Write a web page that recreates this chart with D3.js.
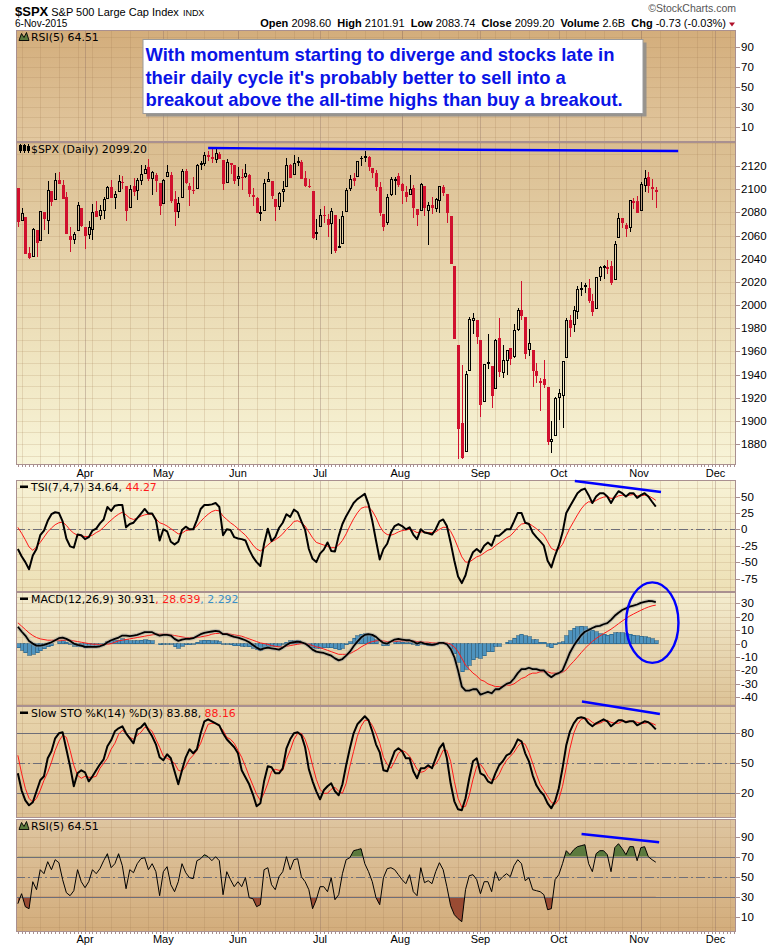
<!DOCTYPE html>
<html><head><meta charset="utf-8">
<script src="https://cdn.jsdelivr.net/npm/d3@7/dist/d3.min.js"></script>
<style>html,body{margin:0;padding:0;background:#fff}svg{display:block}</style>
</head><body>
<svg id="chart" width="780" height="948"></svg>
<script>
// ---------------- DATA ----------------
const dates = ["03-06","03-09","03-10","03-11","03-12","03-13","03-16","03-17","03-18","03-19","03-20","03-23","03-24","03-25","03-26","03-27","03-30","03-31",
"04-01","04-02","04-06","04-07","04-08","04-09","04-10","04-13","04-14","04-15","04-16","04-17","04-20","04-21","04-22","04-23","04-24","04-27","04-28","04-29","04-30",
"05-01","05-04","05-05","05-06","05-07","05-08","05-11","05-12","05-13","05-14","05-15","05-18","05-19","05-20","05-21","05-22","05-26","05-27","05-28","05-29",
"06-01","06-02","06-03","06-04","06-05","06-08","06-09","06-10","06-11","06-12","06-15","06-16","06-17","06-18","06-19","06-22","06-23","06-24","06-25","06-26","06-29","06-30",
"07-01","07-02","07-06","07-07","07-08","07-09","07-10","07-13","07-14","07-15","07-16","07-17","07-20","07-21","07-22","07-23","07-24","07-27","07-28","07-29","07-30","07-31",
"08-03","08-04","08-05","08-06","08-07","08-10","08-11","08-12","08-13","08-14","08-17","08-18","08-19","08-20","08-21","08-24","08-25","08-26","08-27","08-28","08-31",
"09-01","09-02","09-03","09-04","09-08","09-09","09-10","09-11","09-14","09-15","09-16","09-17","09-18","09-21","09-22","09-23","09-24","09-25","09-28","09-29","09-30",
"10-01","10-02","10-05","10-06","10-07","10-08","10-09","10-12","10-13","10-14","10-15","10-16","10-19","10-20","10-21","10-22","10-23","10-26","10-27","10-28","10-29","10-30",
"11-02","11-03","11-04","11-05","11-06"];
const futureDates = ["11-09","11-10","11-11","11-12","11-13","11-16","11-17","11-18","11-19","11-20","11-23","11-24","11-25","11-27","11-30","12-01","12-02","12-03","12-04","12-07","12-08"];
const monthLabels = ["Apr","May","Jun","Jul","Aug","Sep","Oct","Nov","Dec"];

const open = [2100.91,2072.25,2076.14,2044.69,2041.10,2064.56,2055.35,2080.59,2072.84,2098.69,2090.32,2107.99,2103.94,2093.10,2059.94,2055.78,2064.11,2084.05,
2067.63,2060.03,2064.87,2080.79,2076.94,2081.29,2091.51,2102.03,2092.28,2097.82,2105.96,2102.58,2084.11,2102.82,2098.27,2107.21,2112.80,2119.29,2108.35,2112.49,2105.52,
2087.38,2110.23,2112.63,2091.26,2079.96,2092.13,2115.56,2102.87,2099.62,2100.43,2122.07,2121.30,2129.45,2127.79,2125.55,2130.36,2125.34,2105.13,2122.27,2120.66,
2108.64,2110.41,2110.64,2112.35,2095.09,2092.34,2079.07,2081.12,2106.24,2107.43,2091.34,2084.26,2097.40,2101.58,2121.06,2112.50,2123.16,2123.65,2109.96,2102.62,2098.63,2061.19,
2067.00,2078.03,2073.95,2069.52,2077.66,2049.73,2052.74,2080.03,2099.72,2109.25,2110.55,2126.80,2126.85,2127.55,2118.21,2114.16,2102.24,2078.19,2070.75,2094.70,2106.78,2111.60,
2104.49,2097.68,2095.27,2100.75,2082.61,2080.98,2102.66,2081.10,2086.19,2083.15,2089.70,2101.99,2095.69,2076.61,2034.08,1965.15,1898.08,1872.75,1942.77,1986.06,1986.73,
1970.09,1916.52,1950.79,1947.76,1927.30,1971.45,1941.59,1951.45,1963.06,1955.10,1978.02,1995.33,1989.66,1960.84,1961.39,1943.24,1934.73,1935.93,1929.18,1881.90,1887.14,
1919.65,1921.77,1954.33,1986.63,1982.34,1994.01,2013.73,2015.65,2015.00,2003.66,1996.47,2024.37,2031.73,2033.13,2033.47,2021.88,2058.19,2075.08,2068.75,2066.48,2088.35,2090.00,
2080.76,2102.63,2110.60,2101.68,2098.60];
const high = [2100.91,2083.49,2076.14,2050.08,2066.41,2064.56,2081.41,2080.59,2106.85,2098.69,2113.92,2114.86,2107.63,2097.43,2067.15,2062.83,2088.97,2084.05,
2067.63,2072.17,2086.99,2089.81,2086.69,2093.31,2102.61,2107.65,2098.62,2111.91,2111.30,2102.58,2103.94,2109.64,2109.98,2120.49,2120.92,2125.92,2116.04,2113.65,2105.52,
2108.41,2120.95,2115.24,2098.42,2092.90,2117.66,2117.69,2105.06,2110.19,2121.45,2123.89,2131.78,2133.02,2134.72,2134.28,2132.15,2125.34,2126.22,2122.27,2120.66,
2119.15,2117.59,2121.92,2112.89,2100.99,2093.01,2085.62,2108.50,2115.02,2107.43,2091.34,2097.40,2106.79,2126.65,2121.64,2129.87,2128.03,2125.10,2116.04,2108.92,2098.63,2074.28,
2082.78,2085.06,2078.61,2083.74,2077.66,2074.28,2081.31,2100.67,2111.98,2114.14,2124.42,2128.91,2132.82,2128.48,2118.51,2116.87,2106.01,2078.19,2095.60,2110.60,2110.48,2114.24,
2105.70,2102.51,2112.66,2103.32,2082.61,2105.35,2102.66,2089.06,2092.93,2092.45,2102.87,2103.47,2096.17,2076.61,2034.08,1965.15,1948.04,1943.09,1989.60,1993.48,1986.73,
1970.09,1948.91,1975.01,1947.76,1970.42,1988.63,1965.29,1961.05,1963.06,1983.19,1997.26,2020.86,1989.66,1979.64,1961.39,1949.52,1937.17,1952.89,1929.18,1899.48,1920.53,
1927.21,1951.36,1989.17,1991.62,1999.31,2016.50,2020.13,2018.66,2022.34,2009.56,2024.15,2033.54,2034.45,2039.12,2037.97,2055.20,2079.74,2075.14,2070.37,2090.35,2092.52,2094.32,
2106.20,2116.48,2114.59,2108.78,2101.91];
const low = [2067.27,2072.21,2044.16,2039.69,2041.10,2041.17,2055.35,2065.08,2061.23,2085.56,2090.32,2104.42,2091.50,2061.05,2045.50,2052.96,2064.11,2067.04,
2048.38,2057.32,2056.52,2076.10,2073.30,2074.29,2091.51,2092.33,2083.24,2097.82,2100.02,2072.37,2084.11,2094.38,2091.05,2103.19,2112.80,2107.04,2094.89,2097.41,2077.59,
2087.38,2110.23,2088.46,2067.93,2074.99,2092.13,2104.58,2085.57,2096.04,2100.43,2116.81,2120.01,2124.50,2122.59,2122.95,2126.06,2099.18,2105.13,2112.86,2104.89,
2102.54,2099.14,2109.61,2093.23,2085.67,2079.11,2072.14,2081.12,2106.24,2091.33,2072.49,2082.10,2088.86,2101.58,2109.45,2112.50,2119.89,2108.58,2101.78,2101.21,2056.64,2056.32,
2067.00,2071.02,2058.40,2044.02,2044.66,2049.73,2052.74,2080.03,2098.18,2102.49,2110.55,2119.88,2123.66,2115.40,2110.00,2098.63,2077.09,2063.52,2069.09,2094.08,2094.97,2102.07,
2087.31,2088.60,2095.27,2075.53,2067.91,2080.98,2076.49,2052.09,2078.26,2080.61,2079.30,2094.14,2070.53,2035.73,1970.89,1867.01,1867.08,1872.75,1942.77,1975.19,1965.98,
1903.07,1916.52,1944.72,1911.21,1927.30,1937.88,1937.19,1939.19,1948.27,1954.30,1977.93,1986.73,1953.45,1955.80,1929.22,1932.57,1908.92,1928.32,1879.21,1871.91,1887.14,
1900.70,1893.70,1954.33,1971.99,1976.44,1987.53,2007.61,2010.55,2001.78,1990.73,1996.47,2020.46,2022.31,2026.61,2017.22,2021.88,2058.19,2066.53,2058.84,2063.11,2082.63,2079.34,
2080.76,2097.51,2096.98,2090.41,2083.74];
const close = [2071.26,2079.43,2044.16,2040.24,2065.95,2053.40,2081.19,2074.28,2099.50,2089.27,2108.10,2104.42,2091.50,2061.05,2056.15,2061.02,2086.24,2067.89,
2059.69,2066.96,2080.62,2076.33,2081.90,2091.18,2102.06,2092.43,2095.84,2106.63,2104.99,2081.18,2100.40,2097.29,2107.96,2112.93,2117.69,2108.92,2114.76,2106.85,2085.51,
2108.29,2114.49,2089.46,2080.15,2088.00,2116.10,2105.33,2099.12,2098.48,2121.10,2122.73,2129.20,2127.83,2125.85,2130.82,2126.06,2104.20,2123.48,2120.79,2107.39,
2111.73,2109.60,2114.07,2095.84,2092.83,2079.28,2080.15,2105.20,2108.86,2094.11,2084.43,2096.29,2100.44,2121.24,2109.99,2122.85,2124.20,2108.58,2102.31,2101.49,2057.64,2063.11,
2077.42,2076.78,2068.76,2081.34,2046.68,2051.31,2076.62,2099.60,2108.95,2107.40,2124.29,2126.64,2128.28,2119.21,2114.15,2102.15,2079.65,2067.64,2093.25,2108.57,2108.63,2103.84,
2098.04,2093.32,2099.84,2083.56,2077.57,2104.18,2084.07,2086.05,2083.39,2091.54,2102.44,2096.92,2079.61,2035.73,1970.89,1893.21,1867.61,1940.51,1987.66,1988.87,1972.18,
1913.85,1948.86,1951.13,1921.22,1969.41,1942.04,1952.29,1961.05,1953.03,1978.09,1995.31,1990.20,1958.03,1966.97,1942.74,1938.76,1932.24,1931.34,1881.77,1884.09,1920.03,
1923.82,1951.36,1987.05,1979.92,1995.83,2013.43,2014.89,2017.46,2003.69,1994.24,2023.86,2033.11,2033.66,2030.77,2018.94,2052.51,2075.15,2071.18,2065.89,2090.35,2089.41,2079.36,
2104.05,2109.79,2102.31,2099.93,2099.20];

const tsiLine = [-30,-41,-50,-61,-40,-30,-9,-2,13,23, 26,25,12,-14,-26,-28,-8,-9,-15,-12, -2,1,9,15,34,28,36,37,37,3,
8,10,17,24,31,24,24,14,-17,0, -3,-19,-23,-19,-1,4,0,0,14,31, 37,37,38,40,34,-9,0,-1,-12,-14,
-15,-17,-31,-42,-50,-56,-22,1,-18,-12, 2,10,23,19,30,26,12,-1,-30,-45, -50,-37,-31,-20,-33,-34,-10,8,20,30,
40,46,50,54,38,13,-17,-46,-30,-22, -5,5,8,5,0,3,-8,-15,0,-5, -6,-8,0,12,15,5,-20,-48,-72,-82,
-70,-48,-35,-30,-35,-25,-20,-25,-10,-10, -5,0,0,12,25,25,10,8,-5,-12, -18,-25,-48,-58,-40,-25,-5,25,35,45,
55,60,62,52,40,50,55,55,50,40, 50,58,55,50,55,55,48,52,55,50, 42,34.64];
const tsiSignal = [3,-6,-16,-27,-32,-27,-20,-12,-4,2, 7,10,11,6,-1,-6,-9,-10,-11,-11, -9,-5,-2,3,9,14,19,23,26,22,
17,15,17,20,22,23,23,16,10,8, 5,1,-3,-7,-6,-2,-1,0,5,12, 18,23,27,29,28,20,15,10,6,1,
-4,-9,-16,-24,-30,-33,-29,-24,-19,-16, -12,-7,0,5,12,13,10,5,-4,-13, -20,-22,-24,-26,-28,-28,-24,-17,-7,5,
16,25,32,34,34,28,18,5,-4,-8, -9,-7,-4,-2,-1,0,-2,-5,-4,-4, -5,-5,-4,0,3,3,-3,-14,-28,-42,
-50,-50,-46,-42,-40,-36,-32,-30,-25,-21, -17,-13,-10,-4,3,8,9,9,5,1, -4,-9,-19,-29,-32,-30,-23,-10,2,12,
22,31,38,42,41,44,47,49,50,47, 48,51,52,51,52,53,51,51,52,51, 48,44.27];

const macdLine = [12.5,9,6,2,0,-1.5,-1.5,-1,0,1, 2.5,4,4.5,3.5,2,0,-1,-1.5,-2.5,-2.5, -2.5,-2.5,-2,-1,1,2.5,3.5,4.5,6,6,
5.5,6,6.5,7.5,8.5,8.5,8.5,7,6,6.5, 6.5,6,3.5,2,3,3.5,3.5,4,5.5,7, 8,8.5,9,9.5,9,7,7,6,5,4.5,
3.5,2.5,1,-1,-3,-4.5,-3.5,-3,-3.5,-4, -4.5,-3,-1,0.5,1,1.5,1,0,-2,-4.5, -6,-6.5,-7,-8,-9,-11,-12.5,-11.5,-9,-6,
-2,1.5,4.5,6.5,7,6.5,5,2.5,0.5,0, 1.5,3,3.5,3,2.5,2.5,1.5,0,1,0, -0.5,-1,-0.5,0.5,0.5,-0.5,-4,-10,-20,-32,
-35,-35,-34,-34,-38,-37,-36,-37,-34,-34, -32,-30,-29,-26,-22,-19,-19,-18,-19,-19, -20,-20,-23,-25,-23,-22,-20,-13.5,-6.6,-1.7,
2.4,6.2,8.8,10.1,11.6,12.8,13.2,14.4,15.2,17.7, 20.7,23,25,26.2,27.5,28.2,29.1,30.3,31.1,31.7, 31.6,30.931];
const macdSignal = [15.5,13,10.5,8,6,4.5,3.5,3,2.5,2.5, 2.5,2.5,2.5,2.5,2.5,2,1.5,1,0.5,0, -0.5,-0.5,-0.7,-0.7,-0.5,0,1,2,2.5,3,
3.5,4,4.5,5,5.5,6,6.5,7,7,7, 7,6.5,6,5.5,5,4.5,4.5,4.5,4.5,5, 5.5,6,7,7.5,7.5,7.5,7.5,7,6.5,6,
5.5,4.5,3.5,2.5,1.5,0.5,0,-0.5,-1.5,-2, -2.5,-2.5,-2,-1.5,-1,-0.5,0,0,-0.5,-1.5, -2.5,-3,-4,-5,-6,-7,-8,-8,-8,-7.5,
-6,-4.5,-2.5,-1,0.5,1.5,2,2.5,2,1.5, 1.5,1.5,2,2,2,2,2,1.5,1.5,1, 1,0.5,0.5,0.5,0.5,0.5,-0.5,-2.5,-6,-11,
-16,-19,-22,-24,-27,-28,-30,-31,-32,-32, -32,-31,-31,-30,-28,-26,-25,-23,-22,-22, -21,-21,-21,-22,-22,-22,-21.5,-19.5,-16.1,-13.2,
-10.1,-6.8,-3.7,-0.9,1.6,3.8,5.7,7.4,9,10.7, 12.7,14.8,16.8,18.7,20.5,22,23.4,24.8,26.1,27.2, 28.1,28.639];
const macdHist = [-3,-5,-7,-8.5,-8,-7,-5.5,-4,-2.5,-1.5, 0,1.5,2,1,-0.5,-2,-2.5,-2.5,-3,-2.5, -2,-2,-1.5,-0.5,1.5,2.5,2.5,2.5,3.5,3,
2,2,2,2.5,3,2.5,2,0,-1,-0.5, -0.5,-0.5,-2.5,-3.5,-2,-1,-1,-0.5,1,2, 2.5,2.5,2,2,1.5,-0.5,-0.5,-1,-1.5,-1.5,
-2,-2,-2.5,-3.5,-4.5,-5,-3.5,-2.5,-2,-2, -2,-0.5,1,2,2,2,1,0,-1.5,-3, -3.5,-3.5,-3,-3,-3,-4,-4.5,-3.5,-1,1.5,
4,6,7,7.5,6.5,5,3,0,-1.5,-1.5, 0,1.5,1.5,1,0.5,0.5,-0.5,-1.5,-0.5,-1, -1.5,-1.5,-1,0,0,-1,-3.5,-7.5,-14,-21,
-19,-16,-12,-10,-11,-9,-6,-6,-2,-2, 0,1,2,4,6,7,6,5,3,3, 1,1,-2,-3,-1,0.5,1.5,6,9.5,11.5,
12.5,13,12.5,11,10,9,7.5,7,6.2,7, 8,8.2,8.2,7.5,7,6.2,5.7,5.5,5,4.5, 3.5,2.292];

const stoK = [40,23,13,8,11,22,33,37,55,62, 75,80,81,64,47,27,40,43,41,32, 37,43,49,54,67,73,82,85,87,80,
75,70,84,86,90,83,77,69,56,53, 59,55,42,29,43,56,64,60,64,80, 92,94,92,90,88,80,74,70,66,60,
43,36,29,19,7,10,32,47,46,40, 40,45,65,74,80,81,78,66,44,32, 22,14,23,27,30,22,18,29,48,65,
80,89,93,97,93,82,69,61,43,42, 52,62,65,62,55,55,42,35,45,45, 48,45,55,65,70,55,30,12,4,3,
15,35,52,55,40,38,32,30,40,48, 52,58,60,66,74,72,60,52,38,28, 22,18,10,5,12,25,45,68,82,90,
95,96,95,90,87,90,92,94,92,87, 90,93,93,91,92,92,88,90,92,91, 88,83.88];
const stoD = [58,40,25,15,11,15,23,33,41,51, 63,72,78,76,63,48,38,35,37,36, 36,37,45,50,55,64,70,79,83,80,
76,74,78,81,86,85,82,74,66,57, 55,53,50,43,42,47,54,58,63,70, 80,89,90,90,87,83,76,74,70,63,
56,47,37,28,19,13,20,30,42,44, 43,43,54,63,74,80,80,74,63,48, 34,24,20,20,24,26,22,20,30,47,
62,77,87,93,93,88,80,70,56,49, 45,52,60,63,61,57,51,44,41,42, 46,46,49,55,63,63,52,32,15,6,
7,18,34,47,49,44,37,33,34,39, 47,53,57,61,67,71,69,61,50,39, 29,23,17,11,9,14,27,46,65,80,
89,94,95,94,91,89,90,92,93,91, 90,90,92,92,92,92,91,90,90,91, 90,88.16];

const rsi5 = [23,33,20,18,45,37,57,53,65,57, 67,64,47,34,31,36,57,45,39,45, 57,53,58,66,73,59,63,73,61,38,
57,54,63,68,69,57,63,55,31,55, 60,42,35,45,63,54,49,48,66,68, 72,70,66,70,66,32,55,47,40,45,
40,49,29,28,20,22,57,59,42,37, 50,55,70,57,67,68,50,45,37,18, 27,40,40,35,49,27,32,53,67,69,
76,77,78,63,55,45,29,22,49,58, 59,57,52,47,43,52,35,31,59,44, 46,43,55,64,57,40,21,12,8,5,
37,51,52,47,33,45,45,35,55,46, 50,53,50,61,67,63,46,49,37,36, 35,32,17,18,47,52,63,76,72,77,
80,81,82,63,55,73,76,76,72,55, 79,83,78,72,80,80,66,79,80,70, 67,64.51];

const priceTicks = [1880,1900,1920,1940,1960,1980,2000,2020,2040,2060,2080,2100,2120];
const rsiTicks = [10,30,50,70,90];
const tsiTicks = [-75,-50,-25,0,25,50];
const macdTicks = [-40,-30,-20,-10,0,10,20,30];
const stoTicks = [20,50,80];

// annotations drawn by the chart author (data coordinates: day index, value)
const trendLines = [
  {panel:"price", i0:51, v0:2135.5, i1:177, v1:2132.9},
  {panel:"tsi", i0:149.3, v0:73.6, i1:172.4, v1:56.9},
  {panel:"sto", i0:151.2, v0:111.8, i1:172.1, v1:99.3},
  {panel:"rsi", i0:151.1, v0:92.7, i1:171.9, v1:84.4}
];
const macdEllipse = {ci:170.06, cv:15.6, ri:7.02, rv:30.0};
const noteLines = ["With momentum starting to diverge and stocks late in",
  "their daily cycle it's probably better to sell into a",
  "breakout above the all-time highs than buy a breakout."];

// ---------------- CHART ----------------
const svg = d3.select("#chart");
const defs = svg.append("defs");
const allDates = dates.concat(futureDates);
const X0 = 16, X1 = 736;
const x = d3.scaleLinear().domain([-0.5, allDates.length - 0.5]).range([X0, X1]);
const SANS = "'Liberation Sans', Arial, Helvetica, sans-serif";
const LBL = "'DejaVu Sans', Verdana, sans-serif";
const RED = "#d0102e", BORDER = "#a99090";

const panels = {
  rsiTop: {top:30, bottom:142, y:d3.scaleLinear().domain([0,100]).range([136.7,36.7]), ticks:rsiTicks, grid:d3.range(0,101,10), stops:[["0%","#d3ad7b"],["100%","#e2c8a0"]]},
  price: {top:142, bottom:465, y:d3.scaleLinear().domain([1880,2120]).range([444,166]), ticks:priceTicks, grid:d3.range(1860,2150,10), stops:[["0%","#dabd90"],["35%","#e6d2aa"],["70%","#f0e6c2"],["100%","#f8f4d8"]]},
  tsi: {top:480, bottom:592, y:d3.scaleLinear().domain([-75,50]).range([578.5,496.5]), ticks:tsiTicks, grid:d3.range(-100,101,12.5), stops:[["0%","#f7f2d5"],["100%","#ede0b6"]]},
  macd: {top:592, bottom:706, y:d3.scaleLinear().domain([-40,30]).range([697.3,603.3]), ticks:macdTicks, grid:d3.range(-50,45,5), stops:[["0%","#f4edd0"],["100%","#dcc296"]]},
  sto: {top:706, bottom:818, y:d3.scaleLinear().domain([0,100]).range([813.3,713.3]), ticks:stoTicks, grid:d3.range(0,101,10), stops:[["0%","#e8d5ad"],["100%","#dcc094"]]},
  rsi: {top:819, bottom:932, y:d3.scaleLinear().domain([0,100]).range([926.7,826.7]), ticks:rsiTicks, grid:d3.range(0,101,10), stops:[["0%","#dec5a0"],["100%","#d3ad7c"]]}
};

// week / month boundaries from the calendar
const parsed = allDates.map(s => new Date(2015, +s.slice(0,2)-1, +s.slice(3)));
const monthIdx = [], weekIdx = [];
parsed.forEach((d,i) => {
  if (i === 0) return;
  const p = parsed[i-1];
  if (d.getMonth() !== p.getMonth()) monthIdx.push(i);
  if (d.getDay() <= p.getDay() || (d - p) > 4*86400000) weekIdx.push(i);
});

Object.entries(panels).forEach(([key,p]) => {
  const gid = "g_" + key;
  const g = defs.append("linearGradient").attr("id", gid).attr("x1",0).attr("y1",0).attr("x2",0).attr("y2",1);
  p.stops.forEach(s => g.append("stop").attr("offset", s[0]).attr("stop-color", s[1]));
  defs.append("clipPath").attr("id","c_"+key).append("rect")
    .attr("x",X0).attr("y",p.top).attr("width",X1-X0).attr("height",p.bottom-p.top);
  p.g = svg.append("g");
  p.g.append("rect").attr("x",X0).attr("y",p.top).attr("width",X1-X0).attr("height",p.bottom-p.top).attr("fill","url(#"+gid+")");
  const grid = p.g.append("g").attr("clip-path","url(#c_"+key+")").attr("shape-rendering","crispEdges");
  grid.selectAll(".h").data(p.grid).join("line")
    .attr("x1",X0).attr("x2",X1).attr("y1",d=>Math.round(p.y(d))+0.5).attr("y2",d=>Math.round(p.y(d))+0.5)
    .attr("stroke","#a07850").attr("stroke-opacity",0.18);
  grid.selectAll(".w").data(weekIdx).join("line")
    .attr("x1",d=>Math.round(x(d))+0.5).attr("x2",d=>Math.round(x(d))+0.5).attr("y1",p.top).attr("y2",p.bottom)
    .attr("stroke","#a07850").attr("stroke-opacity",0.2);
  grid.selectAll(".m").data(monthIdx).join("line")
    .attr("x1",d=>Math.round(x(d))+0.5).attr("x2",d=>Math.round(x(d))+0.5).attr("y1",p.top).attr("y2",p.bottom)
    .attr("stroke","#8a6a60").attr("stroke-opacity",0.35);
  p.layer = p.g.append("g").attr("clip-path","url(#c_"+key+")");
  const ax = svg.append("g");
  ax.selectAll("text").data(p.ticks).join("text")
    .attr("x",741).attr("y",d=>p.y(d)+4).attr("font-family",SANS).attr("font-size",11.5).attr("fill","#000")
    .text(d=>d);
  ax.selectAll("line").data(p.ticks).join("line")
    .attr("x1",X1).attr("x2",X1+4).attr("y1",d=>Math.round(p.y(d))+0.5).attr("y2",d=>Math.round(p.y(d))+0.5)
    .attr("stroke",BORDER);
});

function refLine(p, v, dashed) {
  p.layer.append("line").attr("x1",X0).attr("x2",X1)
    .attr("y1",Math.round(p.y(v))+0.5).attr("y2",Math.round(p.y(v))+0.5)
    .attr("stroke", "#6e6e78").attr("stroke-width",1.2)
    .attr("stroke-dasharray", dashed ? "9,3,2,3" : null);
}

// ---- price candles
const P = panels.price;
const cg = P.layer.append("g").attr("shape-rendering","crispEdges");
close.forEach((c,i) => {
  const o = open[i];
  const prev = i > 0 ? close[i-1] : o;
  const col = c < prev ? RED : "#000";
  const cx = Math.round(x(i)) + 0.5;
  const yT = Math.round(P.y(Math.max(o,c))), yB = Math.round(P.y(Math.min(o,c)));
  const yH = Math.round(P.y(high[i])), yL = Math.round(P.y(low[i]));
  const bh = Math.max(1, yB - yT);
  cg.append("line").attr("x1",cx).attr("x2",cx).attr("y1",yH).attr("y2",yT).attr("stroke",col);
  cg.append("line").attr("x1",cx).attr("x2",cx).attr("y1",yT+bh).attr("y2",yL).attr("stroke",col);
  if (c < o) {
    cg.append("rect").attr("x",cx-1.5).attr("y",yT).attr("width",3).attr("height",bh).attr("fill",col);
  } else {
    cg.append("rect").attr("x",cx-1).attr("y",yT+0.5).attr("width",2).attr("height",Math.max(0.5,bh-1))
      .attr("fill","none").attr("stroke",col).attr("stroke-width",1);
  }
});

function drawLine(p, vals, color, w, halo) {
  const gen = d3.line().x((d,i)=>x(i)).y(d=>p.y(d));
  if (halo) p.layer.append("path").datum(vals).attr("d", gen).attr("fill","none")
    .attr("stroke","#9a9a9a").attr("stroke-opacity",0.45).attr("stroke-width",w+2.2).attr("stroke-linejoin","round");
  p.layer.append("path").datum(vals).attr("d", gen)
    .attr("fill","none").attr("stroke",color).attr("stroke-width",w).attr("stroke-linejoin","round");
}

// ---- TSI
const T = panels.tsi;
refLine(T, 0, true);
drawLine(T, tsiSignal, "#ff1a1a", 1);
drawLine(T, tsiLine, "#000", 2);

// ---- MACD
const M = panels.macd;
M.layer.append("g").attr("shape-rendering","crispEdges").selectAll("rect").data(macdHist).join("rect")
  .attr("x",(d,i)=>Math.round(x(i))-1.5).attr("width",3.7)
  .attr("y",d=>Math.min(M.y(d),M.y(0))).attr("height",d=>Math.abs(M.y(d)-M.y(0)))
  .attr("fill","#4e93be").attr("stroke","#1f5c84").attr("stroke-width",0.6);
drawLine(M, macdSignal, "#ff1a1a", 1);
drawLine(M, macdLine, "#000", 1.8, true);

// ---- Slow STO
const S = panels.sto;
refLine(S, 80); refLine(S, 20); refLine(S, 50, true);
drawLine(S, stoD, "#ff1a1a", 1);
drawLine(S, stoK, "#000", 2);

// ---- RSI bottom
const R = panels.rsi;
defs.append("clipPath").attr("id","rsiHi").append("rect").attr("x",X0).attr("y",R.top).attr("width",X1-X0).attr("height",R.y(70)-R.top);
defs.append("clipPath").attr("id","rsiLo").append("rect").attr("x",X0).attr("y",R.y(30)).attr("width",X1-X0).attr("height",R.bottom-R.y(30));
R.layer.append("path").datum(rsi5).attr("clip-path","url(#rsiHi)")
  .attr("d", d3.area().x((d,i)=>x(i)).y0(R.y(70)).y1(d=>R.y(d))).attr("fill","#5b7a3e");
R.layer.append("path").datum(rsi5).attr("clip-path","url(#rsiLo)")
  .attr("d", d3.area().x((d,i)=>x(i)).y0(R.y(30)).y1(d=>R.y(d))).attr("fill","#9a4b33");
refLine(R, 70); refLine(R, 30); refLine(R, 50, true);
drawLine(R, rsi5, "#000", 1);

// ---- panel borders
Object.values(panels).forEach(p => {
  svg.append("rect").attr("x",X0+0.5).attr("y",p.top+0.5).attr("width",X1-X0-1).attr("height",p.bottom-p.top-1)
    .attr("fill","none").attr("stroke",BORDER).attr("stroke-width",1).attr("shape-rendering","crispEdges");
});
[465, 932].forEach(yy => {
  svg.append("g").attr("shape-rendering","crispEdges").selectAll("line").data(d3.range(allDates.length)).join("line")
    .attr("x1",d=>Math.round(x(d))+0.5).attr("x2",d=>Math.round(x(d))+0.5).attr("y1",yy).attr("y2",yy+2)
    .attr("stroke",BORDER);
});

// ---- month labels
const monthPos = monthIdx.map(mi => {
  const d = parsed[mi], prev = parsed[mi-1];
  const gapDays = (d - new Date(d.getFullYear(), d.getMonth(), 1)) / 86400000;
  return gapDays > 0 && (d - prev) / 86400000 > gapDays ? mi - 0.5 : mi;
});
[477, 943].forEach(yy => {
  svg.append("g").selectAll("text").data(monthPos).join("text")
    .attr("x",d=>x(d)).attr("y",yy).attr("text-anchor","middle").attr("font-family",SANS).attr("font-size",11)
    .text((d,k)=>monthLabels[k]);
});

// ---- annotations
trendLines.forEach(t => {
  const p = panels[t.panel];
  svg.append("line").attr("x1",x(t.i0)).attr("y1",p.y(t.v0)).attr("x2",x(t.i1)).attr("y2",p.y(t.v1))
    .attr("stroke","#0000ff").attr("stroke-width",2.4);
});
{
  const e = macdEllipse;
  svg.append("ellipse").attr("cx",x(e.ci)).attr("cy",M.y(e.cv))
    .attr("rx",x(e.ci+e.ri)-x(e.ci)).attr("ry",M.y(e.cv-e.rv)-M.y(e.cv))
    .attr("fill","none").attr("stroke","#0000ff").attr("stroke-width",2.4);
}
svg.append("rect").attr("x",146).attr("y",42.5).attr("width",500.5).attr("height",74).attr("fill","#8c8c8c").attr("opacity",0.85);
svg.append("rect").attr("x",143).attr("y",39.5).attr("width",500).attr("height",74).attr("fill","#fff").attr("stroke","#9a9a9a");
noteLines.forEach((s,k) => {
  svg.append("text").attr("x",145.5).attr("y",60.7 + k*22.8).attr("font-family",SANS).attr("font-weight","bold")
    .attr("font-size",18.4).attr("fill","#0a14e6").text(s);
});

// ---- panel labels
function label(p, parts, icon) {
  const yb = p.top + 10.5;
  const t = svg.append("text").attr("x",31).attr("y",yb).attr("font-family",LBL).attr("font-size",10.9);
  parts.forEach(([s,c]) => t.append("tspan").attr("fill",c).text(s));
  if (icon === "mountain") {
    svg.append("path").attr("d",`M19,${yb} L21.5,${yb-7} L24,${yb-3} L26.5,${yb-8} L29,${yb} Z`)
      .attr("fill","#5b7a3e").attr("stroke","#000").attr("stroke-width",0.9);
  } else if (icon === "candle") {
    const gI = svg.append("g").attr("stroke","#000").attr("fill","none").attr("shape-rendering","crispEdges");
    gI.append("line").attr("x1",20.5).attr("x2",20.5).attr("y1",yb-9).attr("y2",yb);
    gI.append("rect").attr("x",19.5).attr("y",yb-7.5).attr("width",2).attr("height",5).attr("fill","#000");
    gI.append("line").attr("x1",24.5).attr("x2",24.5).attr("y1",yb-9).attr("y2",yb);
    gI.append("rect").attr("x",23.5).attr("y",yb-7.5).attr("width",2).attr("height",5);
    gI.append("line").attr("x1",28.5).attr("x2",28.5).attr("y1",yb-9).attr("y2",yb);
    gI.append("rect").attr("x",27.5).attr("y",yb-6.5).attr("width",2).attr("height",4).attr("fill","#000");
  } else {
    svg.append("rect").attr("x",20).attr("y",yb-5).attr("width",8).attr("height",2.5).attr("fill","#000");
  }
}
label(panels.rsiTop, [["RSI(5) 64.51","#000"]], "mountain");
label(panels.price, [["$SPX (Daily) 2099.20","#000"]], "candle");
label(panels.tsi, [["TSI(7,4,7) 34.64, ","#000"],["44.27","#ff1a1a"]], "dash");
label(panels.macd, [["MACD(12,26,9) 30.931","#000"],[", 28.639","#ff1a1a"],[", 2.292","#3a8fc8"]], "dash");
label(panels.sto, [["Slow STO %K(14) %D(3) 83.88, ","#000"],["88.16","#ff1a1a"]], "dash");
label(panels.rsi, [["RSI(5) 64.51","#000"]], "mountain");

// ---- header
{
  const h = svg.append("text").attr("x",15).attr("y",15.5).attr("font-family",SANS);
  h.append("tspan").attr("font-weight","bold").attr("font-size",13).text("$SPX");
  h.append("tspan").attr("font-size",11).attr("dx",3).text("S&P 500 Large Cap Index");
  h.append("tspan").attr("font-size",9).attr("dx",4).text("INDX");
  svg.append("text").attr("x",15).attr("y",26.5).attr("font-family",SANS).attr("font-size",10).text("6-Nov-2015");
  svg.append("text").attr("x",736).attr("y",12).attr("text-anchor","end").attr("font-family",SANS)
    .attr("font-size",10.5).attr("fill","#555").text("\u00A9StockCharts.com");
  const r = svg.append("text").attr("x",726).attr("y",26.5).attr("text-anchor","end").attr("font-family",SANS).attr("font-size",11).attr("style","white-space:pre");
  [["Open",1],[" 2098.60  ",0],["High",1],[" 2101.91  ",0],["Low",1],[" 2083.74  ",0],["Close",1],[" 2099.20  ",0],
   ["Volume",1],[" 2.6B  ",0],["Chg",1],[" -0.73 (-0.03%)",0]].forEach(([s,b]) =>
    r.append("tspan").attr("font-weight", b ? "bold" : "normal").text(s));
  svg.append("path").attr("d","M729,22.5 L735,22.5 L732,26.5 Z").attr("fill","#b0102a");
}
</script>
</body></html>
